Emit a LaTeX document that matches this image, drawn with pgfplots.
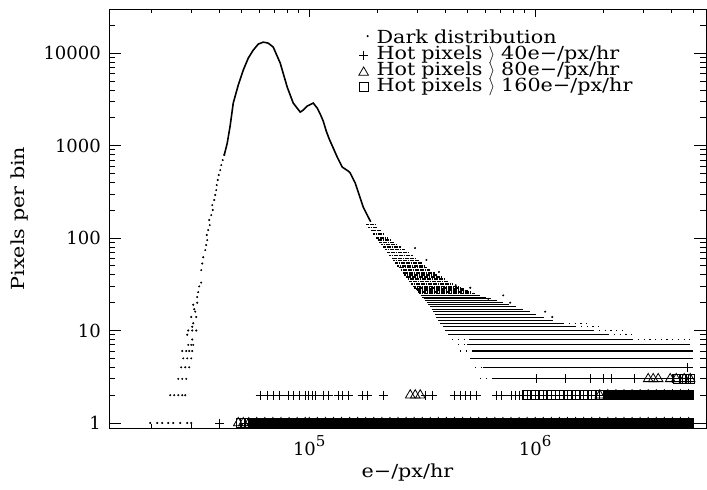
\documentclass[border=0pt]{standalone}
\usepackage{fontspec}
\setmainfont{DejaVu Serif}[FakeStretch=1.15]
\newfontfamily\tickfont{DejaVu Serif}
\usepackage{pgfplots}
\pgfplotsset{compat=1.18}
\newcommand{\legbox}{\pgfpathrectangle{\pgfpoint{0pt}{-3.5pt}}{\pgfpoint{10pt}{16pt}}\pgfusepath{use as bounding box}}
\pgfplotsset{
  legdot/.style={legend image code/.code={\legbox\draw[##1] plot coordinates {(9pt,7pt)};}},
  legplus/.style={legend image code/.code={\legbox\draw[##1] plot coordinates {(5pt,4pt)};}},
  legtri/.style={legend image code/.code={\legbox\draw[##1] plot coordinates {(5pt,2.75pt)};}},
  legsq/.style={legend image code/.code={\legbox\draw[##1] plot coordinates {(5pt,4.5pt)};}},
}
\begin{document}
\fontsize{18}{21}\selectfont
\begin{tikzpicture}
\begin{axis}[
  scale only axis, width=597pt, height=419pt,
  xmode=log, ymode=log,
  xmin=1.3e4, xmax=5.7e6, ymin=0.883, ymax=3e4,
  axis line style={line width=0.9pt},
  every tick/.style={black, line width=0.8pt},
  major tick length=12pt, minor tick length=6pt,
  xtick style={/pgfplots/major tick length=8.4pt,/pgfplots/minor tick length=4.2pt},
  xtick={1e5,1e6},
  xticklabels={10\raisebox{9pt}{\fontsize{15}{15}\selectfont 5},10\raisebox{9pt}{\fontsize{15}{15}\selectfont 6}},
  minor xtick={2e4,3e4,4e4,5e4,6e4,7e4,8e4,9e4,2e5,3e5,4e5,5e5,6e5,7e5,8e5,9e5,2e6,3e6,4e6,5e6},
  ytick={1,10,100,1000,10000},
  yticklabels={1,10,100,1000,10000},
  minor ytick={2,3,4,5,6,7,8,9,20,30,40,50,60,70,80,90,200,300,400,500,600,700,800,900,2000,3000,4000,5000,6000,7000,8000,9000,20000},
  ticklabel style={font=\tickfont\fontsize{18}{20}\selectfont, inner sep=0pt},
  yticklabel style={xshift=-8pt},
  xticklabel style={yshift=-7pt},
  xlabel={e−/px/hr}, ylabel={Pixels per bin},
  label style={font=\fontsize{18}{21}\selectfont},
  every axis x label/.style={at={(axis description cs:0.5,0)}, anchor=base, yshift=-49pt},
  every axis y label/.style={at={([xshift=-85pt]axis description cs:0,0.5)}, rotate=90, anchor=base},
  unbounded coords=jump,
  legend cell align=left,
  legend style={draw=none, fill=none, font=\fontsize{18}{21}\selectfont,
    at={(axis description cs:0.4178,0.9487)}, anchor=north west,
    inner sep=0pt, row sep=0pt, column sep=8pt,
    cells={anchor=base west},
    nodes={inner sep=0pt, text height=12.5pt, text depth=3.5pt, text width=272pt, align=left}},
]
% ---- dark distribution: sparse points (rising branch, low counts, stray tail points)
\addplot[only marks, mark=*, mark size=0.8pt, black, legdot] coordinates {
(1.979e4,1) (2.126e4,1) (2.237e4,1) (2.377e4,1) (2.502e4,1) (2.687e4,1) (2.885e4,1) (3.005e4,1)
(2.426e4,2) (2.527e4,2) (2.633e4,2) (2.742e4,2) (2.827e4,2)
(2.633e4,3) (2.742e4,3) (2.856e4,3)
(2.714e4,4) (2.827e4,4) (2.944e4,4)
(2.770e4,5) (2.885e4,5) (3.005e4,5)
(2.742e4,6) (2.856e4,6) (2.944e4,6) (3.036e4,6)
(2.915e4,7) (3.005e4,7) (3.067e4,7)
(3.036e4,8) (2.885e4,9)
(2.915e4,10) (3.036e4,10) (3.162e4,10)
(3.036e4,11) (3.067e4,12) (3.005e4,14) (3.162e4,14)
(3.131e4,16) (3.099e4,17) (3.067e4,19) (3.194e4,20) (3.194e4,23)
(3.227e4,26) (3.260e4,30) (3.327e4,33) (3.327e4,45) (3.362e4,53)
(3.396e4,62) (3.466e4,74)
(3.501e4,84) (3.537e4,95) (3.519e4,108) (3.573e4,122) (3.628e4,138)
(3.610e4,157) (3.684e4,177) (3.741e4,201) (3.722e4,227) (3.799e4,258)
(3.838e4,292) (3.877e4,330) (3.897e4,374) (3.937e4,424) (3.977e4,480)
(4.038e4,543) (4.079e4,615) (4.142e4,697) (4.206e4,790)
(5.157e5,29) (7.218e5,24) (7.751e5,20) (1.1072e6,16) (1.190e6,14)
(2.94e5,78) (3.30e5,58) (3.75e5,43) (4.45e5,31) (6.2e5,22)
};
\addlegendentry{Dark distribution}
% ---- hot pixels > 40
\addplot[only marks, mark=+, mark size=4.5pt, line width=0.8pt, black, legplus] coordinates {
(4.0e4,1)
(5.179e4,1) (5.623e4,1) (6.105e4,1) (6.629e4,1) (7.197e4,1) (7.814e4,1) (8.483e4,1) (9.210e4,1)
(1.042e5,1) (1.131e5,1) (1.228e5,1) (1.334e5,1) (1.448e5,1) (1.572e5,1) (1.707e5,1) (1.853e5,1)
(2.012e5,1) (2.184e5,1) (2.371e5,1) (2.575e5,1) (2.795e5,1) (3.035e5,1) (3.295e5,1) (3.577e5,1)
(3.884e5,1) (4.217e5,1) (4.579e5,1) (4.971e5,1) (5.397e5,1) (5.859e5,1) (6.362e5,1) (6.907e5,1)
(7.499e5,1) (8.142e5,1) (8.839e5,1) (9.597e5,1)
(1.042e6,1) (1.131e6,1) (1.228e6,1) (1.334e6,1) (1.448e6,1) (1.572e6,1) (1.707e6,1) (1.853e6,1)
(2.012e6,1) (2.184e6,1) (2.371e6,1) (2.575e6,1) (2.795e6,1) (3.035e6,1) (3.295e6,1) (3.577e6,1)
(3.884e6,1) (4.217e6,1) (4.579e6,1)
(6.07e4,2) (6.52e4,2) (6.93e4,2) (7.37e4,2) (8.07e4,2) (8.50e4,2) (9.03e4,2) (9.60e4,2)
(9.90e4,2) (1.031e5,2) (1.063e5,2) (1.153e5,2) (1.214e5,2) (1.344e5,2) (1.400e5,2) (1.488e5,2)
(1.716e5,2) (1.806e5,2) (2.126e5,2) (3.261e5,2) (3.502e5,2) (4.381e5,2) (4.657e5,2) (4.900e5,2)
(5.157e5,2) (5.482e5,2) (6.722e5,2) (7.073e5,2)
(7.814e5,2) (8.142e5,2) (8.483e5,2) (8.839e5,2) (9.210e5,2) (9.597e5,2)
(1.000e6,2) (1.042e6,2) (1.086e6,2) (1.131e6,2) (1.179e6,2) (1.228e6,2) (1.280e6,2) (1.334e6,2)
(1.389e6,2) (1.448e6,2) (1.508e6,2) (1.572e6,2) (1.638e6,2) (1.707e6,2) (1.778e6,2) (1.853e6,2)
(1.931e6,2) (2.012e6,2) (2.096e6,2) (2.184e6,2) (2.276e6,2) (2.371e6,2) (2.471e6,2) (2.575e6,2)
(2.683e6,2) (2.795e6,2) (2.913e6,2) (3.035e6,2) (3.162e6,2) (3.295e6,2) (3.433e6,2) (3.577e6,2)
(3.728e6,2) (3.884e6,2) (4.047e6,2) (4.217e6,2) (4.394e6,2) (4.579e6,2) (4.771e6,2)
(1.010e6,3) (1.358e6,3) (1.751e6,3) (2.000e6,3) (2.170e6,3) (2.743e6,3) (4.038e6,3) (4.381e6,3)
(4.657e6,3) (4.851e6,3)
(4.704e6,4)
};
\addlegendentry{Hot pixels $\big\rangle$ 40e−/px/hr}
% ---- hot pixels > 80
\addplot[only marks, mark=triangle, mark size=5.5pt, line width=0.8pt, black, legtri] coordinates {
(4.851e4,1) (5.105e4,1)
(5.397e4,1) (5.859e4,1) (6.362e4,1) (6.907e4,1) (7.499e4,1) (8.142e4,1) (8.839e4,1) (9.597e4,1)
(1.000e5,1) (1.086e5,1) (1.179e5,1) (1.280e5,1) (1.389e5,1) (1.508e5,1) (1.638e5,1) (1.778e5,1)
(1.931e5,1) (2.096e5,1) (2.276e5,1) (2.471e5,1) (2.683e5,1) (2.913e5,1) (3.162e5,1) (3.433e5,1)
(3.728e5,1) (4.047e5,1) (4.394e5,1) (4.771e5,1) (5.179e5,1) (5.623e5,1) (6.105e5,1) (6.629e5,1)
(7.197e5,1) (7.814e5,1) (8.483e5,1) (9.210e5,1)
(1.000e6,1) (1.086e6,1) (1.179e6,1) (1.280e6,1) (1.389e6,1) (1.508e6,1) (1.638e6,1) (1.778e6,1)
(1.931e6,1) (2.096e6,1) (2.276e6,1) (2.471e6,1) (2.683e6,1) (2.913e6,1) (3.162e6,1) (3.433e6,1)
(3.728e6,1) (4.047e6,1) (4.394e6,1) (4.771e6,1)
(2.799e5,2) (2.945e5,2) (3.099e5,2)
(1.931e6,2) (2.096e6,2) (2.276e6,2) (2.471e6,2) (2.683e6,2) (2.913e6,2) (3.162e6,2) (3.433e6,2)
(3.728e6,2) (4.047e6,2) (4.394e6,2) (4.771e6,2)
(3.162e6,3) (3.328e6,3) (3.502e6,3) (3.957e6,3) (4.206e6,3) (4.563e6,3) (4.851e6,3)
};
\addlegendentry{Hot pixels $\big\rangle$ 80e−/px/hr}
% ---- hot pixels > 160
\addplot[only marks, mark=square, mark size=4.5pt, line width=0.8pt, black, legsq] coordinates {
(4.971e4,1) (5.179e4,1) (5.397e4,1) (5.623e4,1) (5.859e4,1) (6.105e4,1) (6.362e4,1) (6.629e4,1)
(6.907e4,1) (7.197e4,1) (7.499e4,1) (7.814e4,1) (8.142e4,1) (8.483e4,1) (8.839e4,1) (9.210e4,1)
(9.597e4,1)
(1.000e5,1) (1.042e5,1) (1.086e5,1) (1.131e5,1) (1.179e5,1) (1.228e5,1) (1.280e5,1) (1.334e5,1)
(1.389e5,1) (1.448e5,1) (1.508e5,1) (1.572e5,1) (1.638e5,1) (1.707e5,1) (1.778e5,1) (1.853e5,1)
(1.931e5,1) (2.012e5,1) (2.096e5,1) (2.184e5,1) (2.276e5,1) (2.371e5,1) (2.471e5,1) (2.575e5,1)
(2.683e5,1) (2.795e5,1) (2.913e5,1) (3.035e5,1) (3.162e5,1) (3.295e5,1) (3.433e5,1) (3.577e5,1)
(3.728e5,1) (3.884e5,1) (4.047e5,1) (4.217e5,1) (4.394e5,1) (4.579e5,1) (4.771e5,1) (4.971e5,1)
(5.179e5,1) (5.397e5,1) (5.623e5,1) (5.859e5,1) (6.105e5,1) (6.362e5,1) (6.629e5,1) (6.907e5,1)
(7.197e5,1) (7.499e5,1) (7.814e5,1) (8.142e5,1) (8.483e5,1) (8.839e5,1) (9.210e5,1) (9.597e5,1)
(1.000e6,1) (1.042e6,1) (1.086e6,1) (1.131e6,1) (1.179e6,1) (1.228e6,1) (1.280e6,1) (1.334e6,1)
(1.389e6,1) (1.448e6,1) (1.508e6,1) (1.572e6,1) (1.638e6,1) (1.707e6,1) (1.778e6,1) (1.853e6,1)
(1.931e6,1) (2.012e6,1) (2.096e6,1) (2.184e6,1) (2.276e6,1) (2.371e6,1) (2.471e6,1) (2.575e6,1)
(2.683e6,1) (2.795e6,1) (2.913e6,1) (3.035e6,1) (3.162e6,1) (3.295e6,1) (3.433e6,1) (3.577e6,1)
(3.728e6,1) (3.884e6,1) (4.047e6,1) (4.217e6,1) (4.394e6,1) (4.579e6,1) (4.771e6,1)
(9.210e5,2)
(1.000e6,2) (1.086e6,2) (1.179e6,2) (1.280e6,2) (1.389e6,2) (1.508e6,2) (1.638e6,2) (1.778e6,2)
(1.931e6,2) (2.096e6,2) (2.276e6,2) (2.471e6,2) (2.683e6,2) (2.913e6,2) (3.162e6,2) (3.433e6,2)
(3.728e6,2) (4.047e6,2) (4.394e6,2) (4.771e6,2)
(4.292e6,3) (4.563e6,3) (4.851e6,3)
};
\addlegendentry{Hot pixels $\big\rangle$ 160e−/px/hr}
% ---- overlapping hot-pixel markers where they pile up (solid bands)
\addplot[forget plot, only marks, mark=square*, mark size=4.5pt, line width=0.8pt, black, mark options={fill=black}] coordinates {
(5.623e4,1) (6.105e4,1) (6.629e4,1) (7.197e4,1) (7.814e4,1) (8.483e4,1) (9.210e4,1)
(1.000e5,1) (1.086e5,1) (1.179e5,1) (1.280e5,1) (1.389e5,1) (1.508e5,1) (1.638e5,1) (1.778e5,1)
(1.931e5,1) (2.096e5,1) (2.276e5,1) (2.471e5,1) (2.683e5,1) (2.913e5,1) (3.162e5,1) (3.433e5,1)
(3.728e5,1) (4.047e5,1) (4.394e5,1) (4.771e5,1) (5.179e5,1) (5.623e5,1) (6.105e5,1) (6.629e5,1)
(7.197e5,1) (7.814e5,1) (8.483e5,1) (9.210e5,1)
(1.000e6,1) (1.086e6,1) (1.179e6,1) (1.280e6,1) (1.389e6,1) (1.508e6,1) (1.638e6,1) (1.778e6,1)
(1.931e6,1) (2.096e6,1) (2.276e6,1) (2.471e6,1) (2.683e6,1) (2.913e6,1) (3.162e6,1) (3.433e6,1)
(3.728e6,1) (4.047e6,1) (4.394e6,1) (4.771e6,1)
(2.096e6,2) (2.276e6,2) (2.471e6,2) (2.683e6,2) (2.913e6,2) (3.162e6,2) (3.433e6,2)
(3.728e6,2) (4.047e6,2) (4.394e6,2) (4.771e6,2)
};
% ---- dark distribution: dense main curve
\addplot[forget plot, black, line width=1.6pt] coordinates {
(4.206e4,790) (4.337e4,1064) (4.472e4,1666) (4.610e4,2880) (4.851e4,4510) (5.105e4,6551)
(5.373e4,8830) (5.652e4,10776) (5.948e4,12513) (6.259e4,13150) (6.585e4,12826) (6.930e4,11612)
(7.442e4,7797) (7.991e4,4290) (8.496e4,2880) (9.124e4,2302) (9.407e4,2420) (9.798e4,2673)
(1.0416e5,2880) (1.0850e5,2543) (1.1186e5,2190) (1.1533e5,1840) (1.1892e5,1435) (1.2261e5,1176)
(1.2771e5,940) (1.3302e5,751) (1.400e5,586) (1.4434e5,557) (1.4881e5,530) (1.5188e5,504)
(1.5976e5,393) (1.6640e5,292) (1.7338e5,216) (1.8059e5,177) (1.871e5,150)
};
% ---- dark distribution: integer-count rows of the tail, counts 3 to 12
\addplot[forget plot, black, line width=1.1pt] coordinates {
(6.453e5,3) (5.001e6,3) (1e5,nan)
(5.888e5,4) (5.001e6,4) (1e5,nan)
(5.157e5,5) (5.001e6,5) (1e5,nan)
(5.317e5,6) (5.001e6,6) (1e5,nan)
(5.001e5,7) (4.851e6,7) (1e5,nan)
(5.157e5,8) (2.687e6,8) (1e5,nan)
(4.121e5,9) (2.104e6,9) (1e5,nan)
(3.997e5,10) (1.806e6,10) (1e5,nan)
(3.897e5,11) (1.503e6,11) (1e5,nan)
(3.799e5,12) (1.331e6,12)
};
% ---- sparse ends of the low-count rows
\addplot[forget plot, black, line width=1.1pt, dash pattern=on 1.2pt off 4.5pt] coordinates {
(4.292e5,8) (5.157e5,8) (1e5,nan)
(2.687e6,8) (4.851e6,8) (1e5,nan)
(4.563e5,7) (5.001e5,7) (1e5,nan)
(4.657e5,6) (5.317e5,6) (1e5,nan)
(5.427e5,4) (5.888e5,4) (1e5,nan)
(5.710e5,3) (6.453e5,3) (1e5,nan)
(2.104e6,9) (2.687e6,9) (1e5,nan)
(1.806e6,10) (2.452e6,10) (1e5,nan)
(1.503e6,11) (1.939e6,11) (1e5,nan)
(1.331e6,12) (1.751e6,12)
};
% ---- counts 13 to 24
\addplot[forget plot, black, line width=0.9pt] coordinates {
(3.722e5,13) (1.201e6,13) (1e5,nan)
(3.648e5,14) (1.096e6,14) (1e5,nan)
(3.592e5,15) (1.010e6,15) (1e5,nan)
(3.537e5,16) (9.455e5,16) (1e5,nan)
(3.484e5,17) (8.850e5,17) (1e5,nan)
(3.432e5,18) (8.240e5,18) (1e5,nan)
(3.362e5,19) (7.672e5,19) (1e5,nan)
(3.311e5,20) (7.218e5,20) (1e5,nan)
(3.261e5,21) (6.790e5,21) (1e5,nan)
(3.208e5,22) (6.388e5,22) (1e5,nan)
(3.162e5,23) (6.039e5,23) (1e5,nan)
(3.114e5,24) (5.710e5,24)
};
% ---- higher counts: speckled cloud
\addplot[forget plot, black, line width=1.5pt, dash pattern=on 1.8pt off 0.6pt] coordinates {
(3.067e5,25) (5.427e5,25) (1e5,nan)
(2.990e5,27) (5.001e5,27) (1e5,nan)
(2.915e5,29) (4.705e5,29) (1e5,nan)
(2.827e5,32) (4.337e5,32) (1e5,nan)
(2.722e5,36) (3.973e5,36) (1e5,nan)
(2.633e5,40) (3.707e5,40) (1e5,nan)
(2.537e5,45) (3.432e5,45) (1e5,nan)
(2.451e5,50) (3.261e5,50) (1e5,nan)
(2.353e5,57) (3.067e5,57) (1e5,nan)
(2.260e5,65) (2.885e5,65) (1e5,nan)
(2.170e5,75) (2.659e5,75) (1e5,nan)
(2.083e5,85) (2.451e5,85) (1e5,nan)
(2.010e5,95) (2.299e5,95) (1e5,nan)
(1.919e5,110) (2.152e5,110) (1e5,nan)
(1.824e5,130) (2.010e5,130)
};
\addplot[forget plot, black, line width=1.5pt, dash pattern=on 1.8pt off 0.6pt, dash phase=1.2pt] coordinates {
(3.036e5,26) (5.157e5,26) (1e5,nan)
(2.957e5,28) (4.851e5,28) (1e5,nan)
(2.885e5,30) (4.563e5,30) (1e5,nan)
(2.770e5,34) (4.121e5,34) (1e5,nan)
(2.673e5,38) (3.838e5,38) (1e5,nan)
(2.593e5,42) (3.592e5,42) (1e5,nan)
(2.484e5,48) (3.328e5,48) (1e5,nan)
(2.397e5,54) (3.147e5,54) (1e5,nan)
(2.318e5,60) (2.993e5,60) (1e5,nan)
(2.214e5,70) (2.770e5,70) (1e5,nan)
(2.126e5,80) (2.553e5,80) (1e5,nan)
(2.041e5,90) (2.363e5,90) (1e5,nan)
(1.979e5,100) (2.237e5,100) (1e5,nan)
(1.871e5,120) (2.077e5,120) (1e5,nan)
(1.788e5,140) (1.951e5,140)
};
\end{axis}
\pgfresetboundingbox
\path[use as bounding box] ([shift={(-109pt,-61pt)}]current axis.south west) rectangle ([shift={(1pt,9pt)}]current axis.north east);
\end{tikzpicture}
\end{document}
